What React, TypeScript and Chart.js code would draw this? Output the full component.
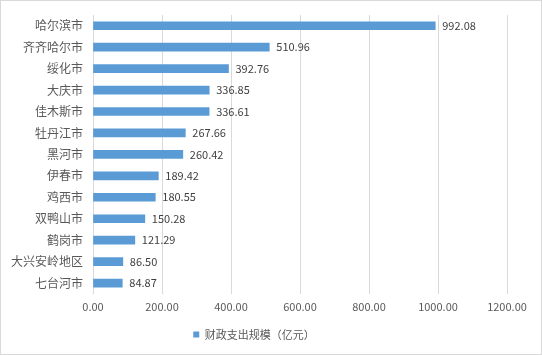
import React, { useEffect, useRef } from "react";
import { Chart, registerables } from "chart.js";

Chart.register(...registerables);

const categories = ["哈尔滨市", "齐齐哈尔市", "绥化市", "大庆市", "佳木斯市", "牡丹江市", "黑河市", "伊春市", "鸡西市", "双鸭山市", "鹤岗市", "大兴安岭地区", "七台河市"];
const values = [992.08, 510.96, 392.76, 336.85, 336.61, 267.66, 260.42, 189.42, 180.55, 150.28, 121.29, 86.5, 84.87];
const seriesName = "财政支出规模（亿元）";
const xMin = 0;
const xMax = 1200;
const xStep = 200;

const FONT = "'Noto Sans CJK SC', 'Noto Sans', sans-serif";

const labelPlugin = {
  id: "barLabels",
  afterDatasetsDraw(chart: any) {
    const ctx = chart.ctx;
    const meta = chart.getDatasetMeta(0);
    ctx.save();
    ctx.font = `11px ${FONT}`;
    ctx.fillStyle = "#404040";
    ctx.textAlign = "left";
    ctx.textBaseline = "middle";
    meta.data.forEach((el: any, i: number) => {
      const v = chart.data.datasets[0].data[i] as number;
      ctx.fillText(v.toFixed(2), el.x + 7, el.y);
    });
    ctx.restore();
  },
};

export default function App() {
  const ref = useRef<HTMLCanvasElement>(null);
  useEffect(() => {
    if (!ref.current) return;
    const chart = new Chart(ref.current, {
      type: "bar",
      data: {
        labels: categories,
        datasets: [
          {
            label: seriesName,
            data: values,
            backgroundColor: "#5B9BD5",
            borderWidth: 0,
            barThickness: 8,
          },
        ],
      },
      options: {
        indexAxis: "y",
        responsive: false,
        animation: false,
        layout: { padding: { top: 14, right: 34, left: 0, bottom: 4 } },
        scales: {
          x: {
            min: xMin,
            max: xMax,
            grid: { color: "#d9d9d9", drawTicks: false },
            border: { display: false },
            ticks: {
              stepSize: xStep,
              color: "#595959",
              font: { family: FONT, size: 11 },
              padding: 6,
              callback: (v: any) => Number(v).toFixed(2),
            },
          },
          y: {
            grid: { display: false, drawTicks: false },
            border: { display: false },
            ticks: {
              color: "#595959",
              font: { family: FONT, size: 12 },
              padding: 10,
            },
            afterFit: (scale: any) => {
              scale.width = 92;
              scale.paddingTop = 0;
              scale.paddingBottom = 0;
            },
          },
        },
        plugins: {
          legend: {
            position: "bottom",
            labels: {
              boxWidth: 6,
              boxHeight: 6,
              color: "#595959",
              font: { family: FONT, size: 11 },
              padding: 10,
            },
          },
          tooltip: { enabled: false },
        },
      },
      plugins: [labelPlugin],
    });
    return () => chart.destroy();
  }, []);
  return (
    <div
      style={{
        position: "absolute",
        left: 0,
        top: 0,
        width: 542,
        height: 355,
        border: "1px solid #d9d9d9",
        boxSizing: "border-box",
        background: "#fff",
      }}
    >
      <canvas ref={ref} width={540} height={353} style={{ display: "block" }} />
    </div>
  );
}
